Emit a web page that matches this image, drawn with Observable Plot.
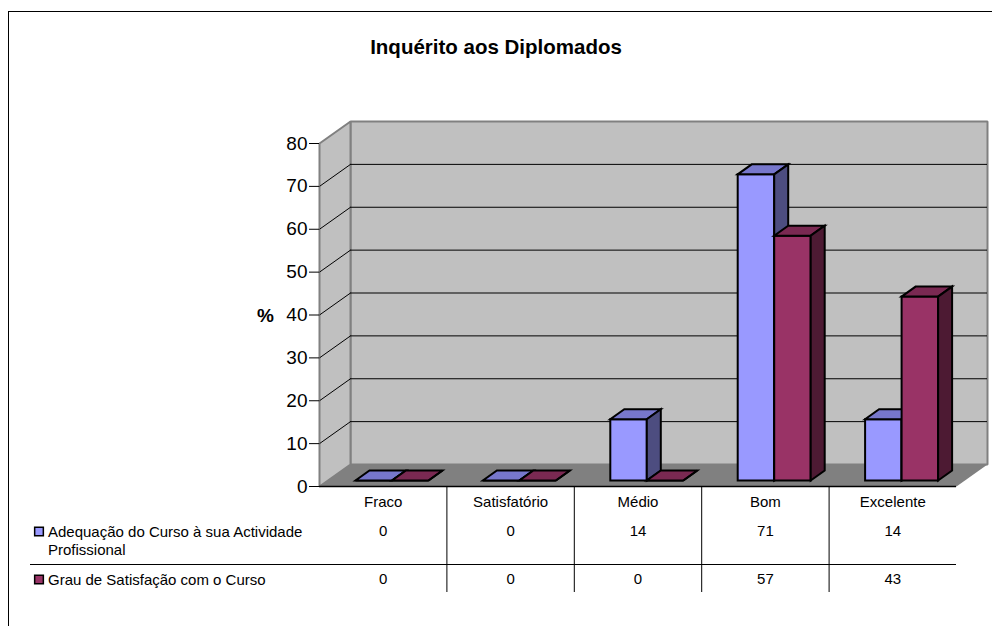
<!DOCTYPE html>
<html>
<head>
<meta charset="utf-8">
<script src="https://cdn.jsdelivr.net/npm/d3@7"></script>
<script src="https://cdn.jsdelivr.net/npm/@observablehq/plot@0.6"></script>
<style>
html, body { margin: 0; padding: 0; background: #fff; overflow: hidden; }
#wrap { position: relative; width: 992px; height: 626px; overflow: hidden; font-family: "Liberation Sans", Arial, sans-serif; }
#chart { position: absolute; left: 0; top: 0; }
#border { position: absolute; left: 8px; top: 11px; width: 1100px; height: 800px; border-left: 1px solid #000; border-top: 1px solid #000; pointer-events: none; }
#title { position: absolute; left: 0; top: 35px; width: 992px; text-align: center; font-weight: bold; font-size: 20.5px; line-height: 24px; color: #000; }
</style>
</head>
<body>
<div id="wrap">
  <div id="chart"></div>
  <div id="border"></div>
  <div id="title">Inquérito aos Diplomados</div>
</div>
<script>
// ---- data ----
const categories = ["Fraco", "Satisfatório", "Médio", "Bom", "Excelente"];
const adequacao = [0, 0, 14.3, 71.4, 14.3];
const satisfacao = [0, 0, 0, 57.1, 42.9];
const seriesNames = ["Adequação do Curso à sua Actividade Profissional", "Grau de Satisfação com o Curso"];
const yTicks = [0, 10, 20, 30, 40, 50, 60, 70, 80];
const yLabel = "%";

// ---- styling ----
const series = [
  {name: seriesNames[0], values: adequacao, front: "#9999FF", top: "#7777CC", side: "#4D4D80"},
  {name: seriesNames[1], values: satisfacao, front: "#993366", top: "#7A2952", side: "#4D1A33"}
];
const fmt = d3.format(".0f");

// depth geometry expressed in scale units (x: category units, y: value units)
const UX = 127.4, UY = 4.2875;
const DX = 31 / UX, DY = 22 / UY;      // wall depth
const BX = 14 / UX, BY = 10 / UY;      // bar depth
const BASE = 6 / UY;                   // bar front face sits slightly behind the floor edge
const slots = [[36 / UX, 72.5 / UX], [72.5 / UX, 109 / UX]];
const n = categories.length;
const yMax = yTicks[yTicks.length - 1];

function rows(polys) {
  const out = [];
  polys.forEach((p, id) => p.pts.forEach(([x, y]) => out.push({id, x, y, fill: p.fill})));
  return out;
}

const walls = rows([
  {pts: [[DX, DY], [n + DX, DY], [n + DX, yMax + DY], [DX, yMax + DY]], fill: "#C0C0C0"},
  {pts: [[0, 0], [DX, DY], [DX, yMax + DY], [0, yMax]], fill: "#C0C0C0"}
]);
const floor = rows([
  {pts: [[0, 0], [n, 0], [n + DX, DY], [DX, DY]], fill: "#808080"}
]);

const barPolys = [];
categories.forEach((c, i) => {
  series.forEach((s, k) => {
    const v = s.values[i];
    const x0 = i + slots[k][0], x1 = i + slots[k][1];
    const y0 = BASE, y1 = BASE + v;
    barPolys.push({pts: [[x0, y0], [x1, y0], [x1, y1], [x0, y1]], fill: s.front});
    barPolys.push({pts: [[x0, y1], [x1, y1], [x1 + BX, y1 + BY], [x0 + BX, y1 + BY]], fill: s.top});
    barPolys.push({pts: [[x1, y0], [x1 + BX, y0 + BY], [x1 + BX, y1 + BY], [x1, y1]], fill: s.side});
  });
});
const bars = rows(barPolys);
const grid = yTicks.filter(v => v > 0 && v < yMax);

const valueDy = [45, 93];
const legendMarks = [];
series.forEach((s, k) => {
  legendMarks.push(Plot.dot([s], {x: 0, y: 0, dx: -280.5, dy: k === 0 ? 45 : 93, symbol: "square", r: 4.9, fill: s.front, stroke: "black", strokeWidth: 1.5}));
  legendMarks.push(Plot.text([s], {x: 0, y: 0, dx: -271.5, dy: k === 0 ? 38 : 93, text: d => d.name, textAnchor: "start",
    lineAnchor: k === 0 ? "top" : "middle", lineWidth: 19, lineHeight: 1.2, fontSize: 15, fill: "black"}));
  legendMarks.push(Plot.text(s.values, {x: (d, i) => i + 0.5, y: 0, dy: valueDy[k], text: d => fmt(d), fontSize: 15, fill: "black"}));
});

const plot = Plot.plot({
  width: 992,
  height: 626,
  marginLeft: 319,
  marginRight: 36,
  marginTop: 143,
  marginBottom: 140,
  x: {type: "linear", domain: [0, n], axis: null},
  y: {type: "linear", domain: [0, yMax], axis: null},
  color: {type: "identity"},
  style: {fontFamily: "'Liberation Sans', Arial, sans-serif", background: "none", color: "black", overflow: "visible"},
  marks: [
    Plot.line(walls, {x: "x", y: "y", z: "id", fill: "#C0C0C0", stroke: "#808080", strokeWidth: 2, curve: "linear-closed", strokeLinejoin: "miter"}),
    Plot.ruleY(grid, {y: d => d + DY, x1: DX, x2: n + DX, stroke: "black", strokeWidth: 1}),
    Plot.link(grid, {x1: 0, y1: d => d, x2: DX, y2: d => d + DY, stroke: "black", strokeWidth: 1}),
    Plot.line(floor, {x: "x", y: "y", z: "id", fill: "#808080", stroke: "none", curve: "linear-closed"}),
    Plot.ruleY([0], {x1: 0, x2: n, stroke: "black", strokeWidth: 1.5}),
    Plot.line(bars, {x: "x", y: "y", z: "id", fill: "fill", stroke: "black", strokeWidth: 2, curve: "linear-closed", strokeLinejoin: "miter", strokeMiterlimit: 4}),
    Plot.axisY({ticks: yTicks, tickSize: 10, tickPadding: 2, fontSize: 19, label: null, tickFormat: d3.format("d"), stroke: "black"}),
    Plot.text([yLabel], {x: 0, y: 40, dx: -54, dy: 1, text: d => d, fontSize: 19, fontWeight: "bold", fill: "black"}),
    Plot.text(categories, {x: (d, i) => i + 0.5, y: 0, dy: 15.7, text: d => d, fontSize: 15, fill: "black"}),
    Plot.ruleX(d3.range(1, n), {insetTop: 343, insetBottom: -106, stroke: "black", strokeWidth: 1}),
    Plot.ruleY([0], {x1: 0, x2: n, dy: 78, insetLeft: -289, stroke: "black", strokeWidth: 1}),
    ...legendMarks
  ]
});
document.getElementById("chart").append(plot);
</script>
</body>
</html>
